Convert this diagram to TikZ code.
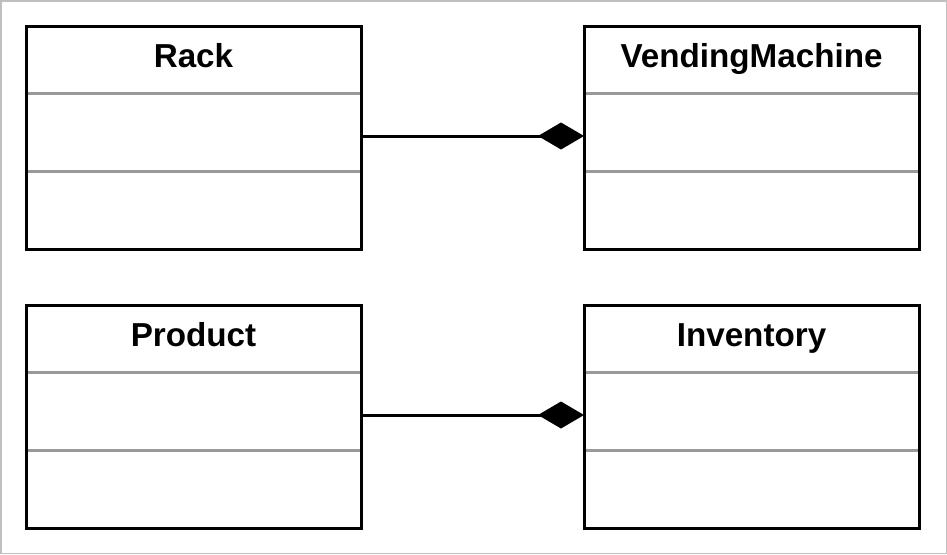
\documentclass[tikz,border=0pt]{standalone}
\usepackage{fontspec}
\setmainfont{Liberation Sans}
\usetikzlibrary{arrows.meta}
\tikzset{
  classbox/.style={draw=black, line width=3pt, fill=white},
  sep/.style={draw=black!40, line width=3pt},
  title/.style={font=\fontsize{33.2}{36}\selectfont\bfseries, anchor=base, inner sep=0pt},
  comp/.style={line width=3pt, -{Diamond[length=46pt,width=27pt,fill=black]}}
}
\begin{document}
\begin{tikzpicture}[x=1pt,y=-1pt]
\useasboundingbox (0,0) rectangle (947,554);
\draw[black!25, line width=1.5pt] (0.75,0.75) rectangle (946.25,553.25);
% Rack
\draw[classbox] (26,26) rectangle (361,249);
\node[title] (rack) at (193.5,67) {Rack};
\draw[sep] (27.5,93) -- (359.5,93);
\draw[sep] (27.5,171) -- (359.5,171);
\coordinate (rackR) at (361,136);
% VendingMachine
\draw[classbox] (584,26) rectangle (919,249);
\node[title] (vm) at (751.5,67) {VendingMachine};
\draw[sep] (585.5,93) -- (917.5,93);
\draw[sep] (585.5,171) -- (917.5,171);
\coordinate (vmL) at (584,136);
% Product
\draw[classbox] (26,305) rectangle (361,528);
\node[title] (prod) at (193.5,346) {Product};
\draw[sep] (27.5,372) -- (359.5,372);
\draw[sep] (27.5,450) -- (359.5,450);
\coordinate (prodR) at (361,415);
% Inventory
\draw[classbox] (584,305) rectangle (919,528);
\node[title] (inv) at (751.5,346) {Inventory};
\draw[sep] (585.5,372) -- (917.5,372);
\draw[sep] (585.5,450) -- (917.5,450);
\coordinate (invL) at (584,415);
% connectors
\draw[comp] (rackR) -- (vmL);
\draw[comp] (prodR) -- (invL);
\end{tikzpicture}
\end{document}
